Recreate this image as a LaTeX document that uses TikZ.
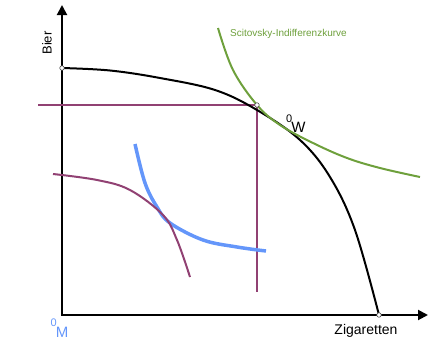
\documentclass[tikz,border=0pt]{standalone}
\usepackage{fontspec}
\setmainfont{Liberation Sans}
\usetikzlibrary{arrows.meta}
\definecolor{mag}{RGB}{145,65,115}
\definecolor{grn}{RGB}{110,160,60}
\definecolor{blu}{RGB}{100,150,250}
\tikzset{
  axis/.style={line width=2pt,{Triangle[width=10pt,length=10pt]}-{Triangle[width=10pt,length=10pt]}},
  ppf/.style={line width=2pt,black},
  magline/.style={line width=2pt,mag},
  grncurve/.style={line width=2pt,grn},
  blucurve/.style={line width=3.5pt,blu},
  marker/.style={circle,draw=black!70,fill=white,line width=0.6pt,inner sep=0pt,minimum size=4.5pt},
  lbl/.style={inner sep=0pt,font=\fontsize{14}{14}\selectfont},
  sublbl/.style={inner sep=0pt,font=\fontsize{15}{15}\selectfont}
}
\begin{document}
\begin{tikzpicture}[x=1pt,y=-1pt]
\useasboundingbox (0,0) rectangle (440,362);
% axes
\coordinate (ytip) at (62,5);
\coordinate (origin) at (62,315);
\coordinate (xtip) at (428,315);
\draw[axis] (ytip) -- (origin) -- (xtip);
% magenta lines
\coordinate (hstart) at (38,105);
\coordinate (tang) at (257,105);
\coordinate (vend) at (257,292);
\draw[magline] (hstart) -- (tang) -- (vend);
% production possibility frontier
\draw[ppf] plot[smooth,tension=0.6] coordinates {(62,68) (110,70.5) (160,78) (215,90) (257,110) (300,140) (330,177) (355,230) (379,315)};
% Scitovsky curve
\draw[grncurve] plot[smooth,tension=0.6] coordinates {(218,28) (233,70) (257,105) (280,125) (313,143) (347,158) (380,168) (420,177)};
% blue curve
\draw[blucurve] plot[smooth,tension=0.6] coordinates {(135,144) (145,183) (157,207) (170,223) (203,240) (237,247) (266,251)};
% magenta curve
\draw[magline] plot[smooth,tension=0.6] coordinates {(53,174) (97,180) (130,190) (163,215) (177,240) (190,277)};
% markers
\node[marker] (m1) at (62,68) {};
\node[marker] (m2) at (tang) {};
\node[marker] (m3) at (379,315) {};
% labels
\node[inner sep=0pt,rotate=90,font=\fontsize{13}{13}\selectfont] (bier) at (47,43) {Bier};
\node[inner sep=0pt,anchor=west,text=grn,font=\fontsize{10}{10}\selectfont] (sci) at (230,34) {Scitovsky-Indifferenzkurve};
\node[lbl] (zig) at (366,331) {Zigaretten};
\node[sublbl,anchor=base west] (ow) at (286,132) {\raisebox{9.5pt}{\fontsize{11}{11}\selectfont 0}\kern-1pt W};
\node[sublbl,anchor=base west,text=blu] (om) at (50.5,337) {\raisebox{10.5pt}{\fontsize{11}{11}\selectfont 0}\kern-1pt M};
\end{tikzpicture}
\end{document}
